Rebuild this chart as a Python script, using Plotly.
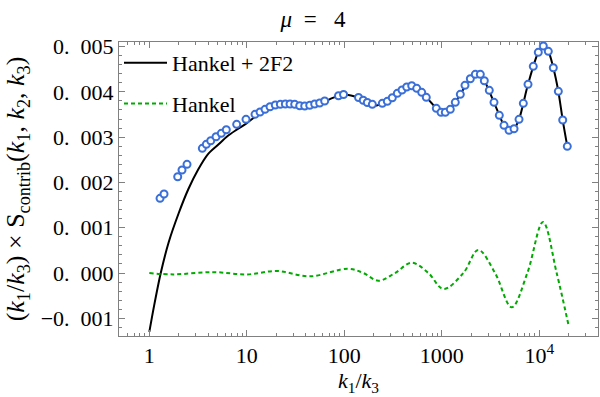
import plotly.graph_objects as go

# ---- data ----
# Blue circles: numerical S_contrib points
k_pts = [1.288, 1.415, 1.955, 2.164, 2.436, 3.497, 3.843, 4.265, 4.835, 5.475, 6.16,
         7.87, 9.81, 12.14, 13.67, 15.38, 17.3, 19.6, 22.07, 24.84, 27.74, 30.99, 34.88,
         39.26, 44.2, 49.7, 55.9, 62.9, 87.2, 98.2, 139.9, 156.3, 172.2, 193.8, 245.4,
         276.1, 310.6, 349.8, 390.8, 436.7, 491.4, 553, 622, 693, 878, 982, 1086, 1222,
         1375, 1548, 1729, 1961, 2206, 2483, 2729, 3070, 3430, 3888, 4345, 4890, 5505,
         6194, 6855, 7659, 8672, 9763, 10990, 12370, 13920, 15670, 17380, 19370]
s_pts = [1.649, 1.744, 2.126, 2.274, 2.400, 2.753, 2.841, 2.921, 3.009, 3.084, 3.163,
         3.283, 3.393, 3.503, 3.554, 3.614, 3.671, 3.709, 3.724, 3.731, 3.731, 3.724, 3.693,
         3.687, 3.702, 3.731, 3.753, 3.797, 3.914, 3.940, 3.874, 3.815, 3.764, 3.724, 3.746,
         3.790, 3.870, 3.967, 4.040, 4.106, 4.135, 4.077, 3.989, 3.879, 3.636, 3.547, 3.547, 3.614,
         3.768, 3.945, 4.143, 4.289, 4.386, 4.386, 4.245, 4.033, 3.768, 3.481, 3.260, 3.150, 3.185,
         3.393, 3.746, 4.166, 4.563, 4.872, 5.011, 4.894, 4.532, 4.011, 3.377, 2.797]
s_pts = [v * 1e-3 for v in s_pts]

# Black solid curve: Hankel + 2F2
k_full = [1.0, 1.12, 1.31, 1.58, 2.0, 2.51, 3.16, 3.98, 5.01, 6.31, 7.94, 10.0, 12.14,
          15.38, 19.6, 24.84, 30.99, 39.26, 49.7, 62.9, 75, 87.2, 98.2, 117, 139.9, 172.2,
          193.8, 215, 245.4, 310.6, 390.8, 491.4, 553, 693, 780, 878, 1086, 1222, 1548,
          1961, 2340, 2729, 3430, 4345, 4890, 5505, 6194, 7659, 9763, 10990, 12370,
          13920, 15670, 17380, 19370]
s_full = [-1.30, -0.72, 0.0, 0.68, 1.32, 1.85, 2.28, 2.62, 2.82, 3.02, 3.17, 3.31, 3.45,
          3.60, 3.70, 3.73, 3.725, 3.69, 3.72, 3.79, 3.86, 3.91, 3.94, 3.92, 3.87, 3.77,
          3.72, 3.70, 3.74, 3.87, 4.04, 4.13, 4.08, 3.88, 3.76, 3.64, 3.55, 3.61, 3.945,
          4.29, 4.40, 4.245, 3.768, 3.26, 3.15, 3.185, 3.393, 4.166, 4.872, 5.011, 4.894,
          4.532, 4.011, 3.377, 2.797]
s_full = [v * 1e-3 for v in s_full]

# Green dashed curve: Hankel only
k_hank = [1.0, 1.76, 4.53, 10.0, 20.3, 44.5, 109.9, 156.7, 223.4, 331.1, 491.0, 727.8,
          1038, 1663, 2366, 3516, 5212, 7534, 10910, 15070, 19820]
s_hank = [0.0, -0.03, 0.02, -0.03, 0.045, -0.073, 0.095, 0.0, -0.17, 0.0, 0.227, 0.0,
          -0.353, 0.0, 0.508, 0.0, -0.757, 0.0, 1.126, 0.0, -1.126]
s_hank = [v * 1e-3 for v in s_hank]

x_tickvals = [1, 10, 100, 1000, 10000]
x_ticktext = ["1", "10", "100", "1000", "10<sup>4</sup>"]
y_tickvals = [-0.001, 0.0, 0.001, 0.002, 0.003, 0.004, 0.005]
y_ticktext = ["\u22120.\u2002001", "0.\u2002000", "0.\u2002001", "0.\u2002002",
              "0.\u2002003", "0.\u2002004", "0.\u2002005"]

# ---- figure ----
x_minor = [m * 10 ** d for d in range(-1, 5) for m in range(2, 10)
           if 0.45 < m * 10 ** d < 40000 and m * 10 ** d not in x_tickvals]
y_minor = [round(-0.0012 + 0.0002 * i, 4) for i in range(32)]
y_minor = [v for v in y_minor if abs(round(v * 1000) - v * 1000) > 1e-6]

FRAME = "#808080"
SERIF = "Liberation Serif"
fig = go.Figure()
fig.add_trace(go.Scatter(
    x=k_full, y=s_full, mode="lines", name="Hankel + 2F2", legendgroup="a",
    line=dict(color="black", width=2, shape="spline", smoothing=0.8)))
fig.add_trace(go.Scatter(
    x=k_hank, y=s_hank, mode="lines", name="Hankel", legendgroup="b",
    line=dict(color="#00aa00", width=2, dash="4px,3px", shape="spline", smoothing=1.0)))
fig.add_trace(go.Scatter(
    x=k_pts, y=s_pts, mode="markers", showlegend=False,
    marker=dict(symbol="circle", size=7, color="white",
                line=dict(color="#3a6fd8", width=2))))

tickfont = dict(family=SERIF, size=22, color="black")
fig.update_layout(
    width=600, height=397,
    margin=dict(l=119, r=2, t=42, b=61),
    paper_bgcolor="white", plot_bgcolor="white",
    title=dict(text="<i>\u03bc</i>\u2002=\u2002\u00a04", x=313 / 600, xanchor="center",
               y=1 - 19 / 397, yanchor="middle",
               font=dict(family=SERIF, size=23, color="black")),
    legend=dict(x=0.0, y=1.0, xanchor="left", yanchor="top", bgcolor="rgba(0,0,0,0)",
                itemwidth=43, tracegroupgap=9,
                font=dict(family=SERIF, size=22, color="black")),
    xaxis=dict(type="log", range=[-0.311, 4.602], showgrid=False, zeroline=False,
               automargin=False,
               showline=True, linecolor=FRAME, linewidth=1, mirror="ticks",
               ticks="inside", ticklen=6, tickcolor=FRAME,
               tickvals=x_tickvals, ticktext=x_ticktext, tickfont=tickfont,
               minor=dict(ticks="inside", ticklen=3, tickcolor=FRAME, tickvals=x_minor),
               title=dict(text="<i>k</i><sub>1</sub>/<i>k</i><sub>3</sub>",
                          font=dict(family=SERIF, size=22, color="black"),
                          standoff=4)),
    yaxis=dict(range=[-0.00139, 0.0051], showgrid=False, zeroline=False,
               automargin=False,
               showline=True, linecolor=FRAME, linewidth=1, mirror="ticks",
               ticks="inside", ticklen=6, tickcolor=FRAME,
               tickvals=y_tickvals, ticktext=y_ticktext, tickfont=tickfont,
               minor=dict(ticks="inside", ticklen=3, tickcolor=FRAME, tickvals=y_minor),
               title=dict(text="(<i>k</i><sub>1</sub>/<i>k</i><sub>3</sub>) \u00d7 S<sub>contrib</sub>(<i>k</i><sub>1</sub>, <i>k</i><sub>2</sub>, <i>k</i><sub>3</sub>)",
                          font=dict(family=SERIF, size=26, color="black"),
                          standoff=8)),
)
fig.write_html("out.html", config={"displayModeBar": False},
               post_script="document.body.style.margin='0px';")
